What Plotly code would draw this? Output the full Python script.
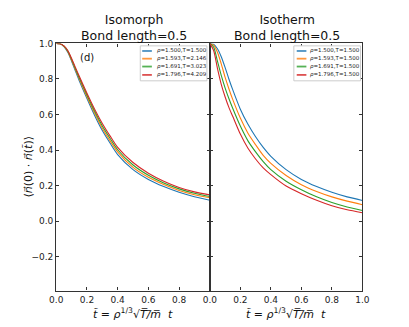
import plotly.graph_objects as go

# reduced time grid
t = [0.0, 0.025, 0.05, 0.075, 0.1, 0.125, 0.15, 0.2, 0.25, 0.3, 0.35, 0.4, 0.5, 0.6, 0.7, 0.8, 0.9, 1.0]

# isomorph panel
iso_blue = [1.0, 0.998, 0.982, 0.95, 0.9, 0.845, 0.79, 0.69, 0.595, 0.51, 0.44, 0.375, 0.29, 0.235, 0.195, 0.163, 0.138, 0.118]
iso_orange = [1.0, 0.998, 0.984, 0.954, 0.905, 0.852, 0.8, 0.7, 0.607, 0.523, 0.453, 0.39, 0.303, 0.247, 0.206, 0.173, 0.149, 0.132]
iso_green = [1.0, 0.998, 0.985, 0.957, 0.91, 0.858, 0.807, 0.71, 0.618, 0.536, 0.467, 0.402, 0.316, 0.258, 0.215, 0.182, 0.157, 0.139]
iso_red = [1.0, 0.998, 0.986, 0.96, 0.915, 0.865, 0.815, 0.72, 0.63, 0.55, 0.48, 0.415, 0.33, 0.27, 0.225, 0.19, 0.165, 0.148]
iso_names = ["ρ=1.500,T=1.500", "ρ=1.593,T=2.146", "ρ=1.691,T=3.023", "ρ=1.796,T=4.209"]

# isotherm panel
ith_blue = [1.0, 0.995, 0.97, 0.925, 0.865, 0.8, 0.74, 0.63, 0.545, 0.475, 0.415, 0.365, 0.29, 0.235, 0.195, 0.163, 0.137, 0.117]
ith_orange = [1.0, 0.99, 0.95, 0.885, 0.81, 0.745, 0.685, 0.58, 0.495, 0.43, 0.37, 0.325, 0.257, 0.205, 0.167, 0.137, 0.113, 0.093]
ith_green = [1.0, 0.98, 0.9, 0.82, 0.75, 0.69, 0.635, 0.535, 0.452, 0.39, 0.335, 0.29, 0.225, 0.177, 0.137, 0.105, 0.08, 0.06]
ith_red = [1.0, 0.96, 0.86, 0.77, 0.7, 0.64, 0.59, 0.49, 0.41, 0.35, 0.3, 0.262, 0.198, 0.155, 0.118, 0.087, 0.064, 0.048]
ith_names = ["ρ=1.500,T=1.500", "ρ=1.593,T=1.500", "ρ=1.691,T=1.500", "ρ=1.796,T=1.500"]

colors = ["#1f77b4", "#ff7f0e", "#2ca02c", "#d62728"]

x_ticks = [0.0, 0.2, 0.4, 0.6, 0.8, 1.0]
x_left_text = ["0.0", "0.2", "0.4", "0.6", "0.8", ""]
x_right_text = ["0.0", "0.2", "0.4", "0.6", "0.8", "1.0"]
y_ticks = [-0.2, 0.0, 0.2, 0.4, 0.6, 0.8, 1.0]
y_text = ["\u22120.2", "0.0", "0.2", "0.4", "0.6", "0.8", "1.0"]

W, H = 409, 327


def px(x):
    return x / W


def py(y):
    return 1 - y / H


fig = go.Figure()

for ys, c in zip([iso_blue, iso_orange, iso_green, iso_red], colors):
    fig.add_trace(go.Scatter(x=t, y=ys, mode="lines", line=dict(color=c, width=1.1, shape="spline", smoothing=0.7),
                             xaxis="x", yaxis="y"))
for ys, c in zip([ith_blue, ith_orange, ith_green, ith_red], colors):
    fig.add_trace(go.Scatter(x=t, y=ys, mode="lines", line=dict(color=c, width=1.1, shape="spline", smoothing=0.7),
                             xaxis="x2", yaxis="y2"))

axis_common = dict(showgrid=False, zeroline=False, showline=True, linecolor="#333", linewidth=1.3,
                   mirror="ticks", ticks="inside", ticklen=3, tickwidth=1, tickcolor="#333",
                   tickfont=dict(size=9, color="#222"))

dom_y = [py(290), py(39)]
fig.update_layout(
    width=W, height=H,
    margin=dict(l=0, r=0, t=0, b=0),
    paper_bgcolor="white", plot_bgcolor="white",
    font=dict(family="DejaVu Sans", color="#111"),
    showlegend=False,
    xaxis=dict(domain=[px(51), px(210)], range=[0, 1], tickvals=x_ticks, ticktext=x_left_text, **axis_common),
    yaxis=dict(domain=dom_y, range=[-0.39, 1.0], tickvals=y_ticks, ticktext=y_text, **axis_common),
    xaxis2=dict(domain=[px(210), px(368)], range=[0, 1], tickvals=x_ticks, ticktext=x_right_text, anchor="y2", **axis_common),
    yaxis2=dict(domain=dom_y, range=[-0.39, 1.0], tickvals=y_ticks, showticklabels=False, anchor="x2", **axis_common),
)


# hand-made legends, matplotlib style (compact)
def add_legend(x0, x1, y0, y1, names, line_x0, line_x1, text_x, rows):
    fig.add_shape(type="rect", xref="paper", yref="paper", x0=px(x0), x1=px(x1), y0=py(y1), y1=py(y0),
                  line=dict(color="#cccccc", width=1), fillcolor="white", layer="above")
    for name, c, ry in zip(names, colors, rows):
        fig.add_shape(type="line", xref="paper", yref="paper", x0=px(line_x0), x1=px(line_x1), y0=py(ry), y1=py(ry),
                      line=dict(color=c, width=1.8), opacity=0.8, layer="above")
        fig.add_annotation(text="<i>ρ</i>" + name[1:], x=px(text_x), y=py(ry), xref="paper", yref="paper",
                           xanchor="left", yanchor="middle", showarrow=False, font=dict(size=5.5, color="#222"))


add_legend(138, 207, 41.5, 77, iso_names, 140, 150, 153, [46.7, 54.5, 62.5, 71])
add_legend(297, 366, 41.5, 77, ith_names, 300, 310, 312, [46.7, 54.5, 62.5, 71])

fig.add_annotation(text="Isomorph<br>Bond length=0.5", x=px(131), y=py(22.5), xref="paper", yref="paper",
                   xanchor="center", yanchor="middle", showarrow=False, font=dict(size=12.5))
fig.add_annotation(text="Isotherm<br>Bond length=0.5", x=px(290), y=py(22.5), xref="paper", yref="paper",
                   xanchor="center", yanchor="middle", showarrow=False, font=dict(size=12.5))
fig.add_annotation(text="(d)", x=px(83), y=py(53), xref="paper", yref="paper", xanchor="center", yanchor="middle",
                   showarrow=False, font=dict(size=10))

xlabel = "<i>t\u0303</i> = <i>ρ</i><sup>1/3</sup>√<i>T\u0305/\u0305m\u0305</i>  <i>t</i>"
fig.add_annotation(text=xlabel, x=px(130), y=py(313), xref="paper", yref="paper", xanchor="center", yanchor="middle",
                   showarrow=False, font=dict(size=11))
fig.add_annotation(text=xlabel, x=px(289), y=py(313), xref="paper", yref="paper", xanchor="center", yanchor="middle",
                   showarrow=False, font=dict(size=11))
fig.add_annotation(text="⟨<i>n\u20d7</i>(0) · <i>n\u20d7</i>(<i>t\u0303</i>)⟩", x=px(13), y=py(164), xref="paper",
                   yref="paper", textangle=-90, showarrow=False, font=dict(size=11))

# no page margin, so the figure sits at the window's corner
fig.write_html("out.html", config={"displayModeBar": False},
               post_script="document.body.style.margin='0';document.body.style.overflow='hidden';")
